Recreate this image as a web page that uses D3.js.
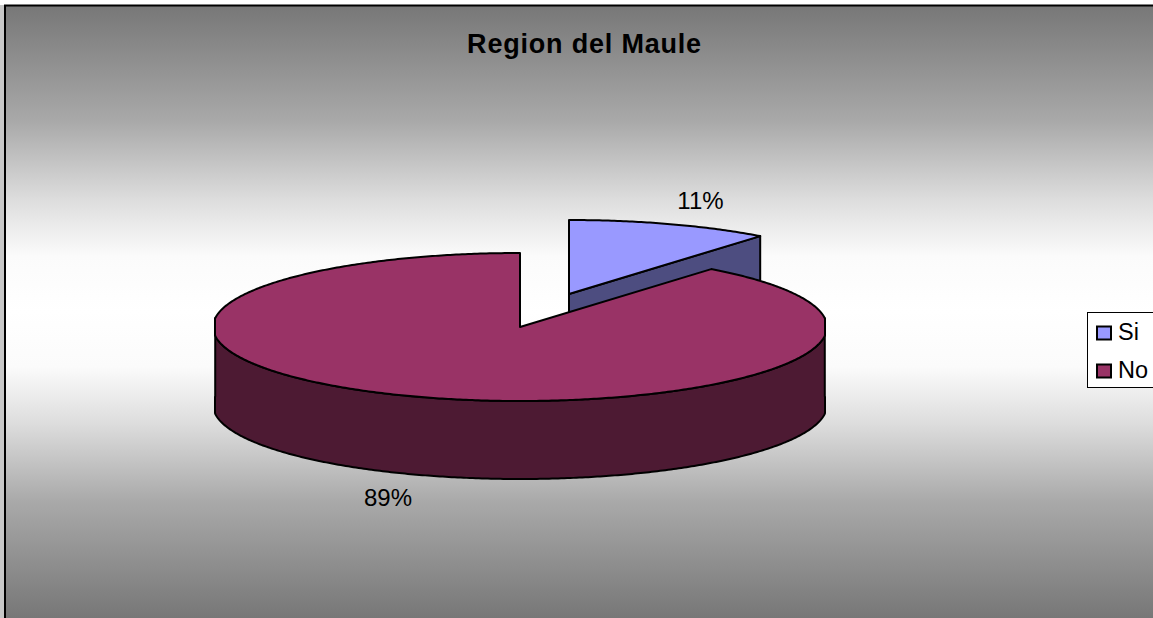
<!DOCTYPE html>
<html><head><meta charset="utf-8">
<script src="https://cdn.jsdelivr.net/npm/d3@7/dist/d3.min.js"></script>
<style>html,body{margin:0;padding:0;background:#fff}svg{display:block}text{font-family:"Liberation Sans",Arial,sans-serif;fill:#000}</style>
</head><body><svg id="c" width="1153" height="618"></svg>
<script>
const chartTitle = "Region del Maule";
const categories = ["Si", "No"];
const values = [10.7, 89.3];
const labels = ["11%", "89%"];
const topColors = ["#9999ff", "#993366"];
const sideColors = ["#4d4d80", "#4d1a33"];

const W = 1153, H = 618;
const svg = d3.select("#c");
const defs = svg.append("defs");
const grad = defs.append("linearGradient").attr("id","bg").attr("gradientUnits","userSpaceOnUse")
  .attr("x1",0).attr("y1",5).attr("x2",0).attr("y2",618);
[[0,"#777777"],[0.19,"#a9a9a9"],[0.32,"#dedede"],[0.41,"#fbfbfb"],[0.5,"#ffffff"],[0.59,"#fbfbfb"],[0.68,"#dedede"],[0.81,"#a9a9a9"],[1,"#777777"]]
  .forEach(s=>grad.append("stop").attr("offset",s[0]).attr("stop-color",s[1]));

svg.append("rect").attr("width",W).attr("height",H).attr("fill","#fff");
svg.append("rect").attr("x",0).attr("y",5).attr("width",4).attr("height",H).attr("fill","#c8c8c8");
svg.append("rect").attr("x",5).attr("y",5.5).attr("width",W+10).attr("height",H+10)
  .attr("fill","url(#bg)").attr("stroke","#000").attr("stroke-width",2);

svg.append("text").attr("x",584.5).attr("y",59).attr("text-anchor","middle")
  .attr("font-size",18.5).attr("font-weight","bold").attr("font-size",27).attr("letter-spacing",0.8)
  .attr("y",53).text(chartTitle);

// pie geometry
const rx = 307, maxX = 305, ry = 74, depth = 78;
const centers = [{x:569,y:294},{x:520,y:327}];
const pie = d3.pie().sort(null).value(d=>d)(values);
const px = (c,a)=>c.x + Math.max(-maxX,Math.min(maxX,rx*Math.sin(a)));
const py = (c,a)=>c.y - ry*Math.cos(a);
const rim = (c,a0,a1,dy=0)=>{
  const n = Math.max(2,Math.ceil((a1-a0)/0.01));
  return d3.range(n+1).map(i=>{const a=a0+(a1-a0)*i/n;return [px(c,a),py(c,a)+dy];});
};
const line = d3.line();
const draw = (pts,fill)=>svg.append("path").attr("d",line(pts)+"Z").attr("fill",fill)
  .attr("stroke","#000").attr("stroke-width",2).attr("stroke-linejoin","round");

// Si slice: visible cut face, then top
{
  const c = centers[0], s = pie[0];
  const e = [px(c,s.endAngle),py(c,s.endAngle)];
  draw([[c.x,c.y],e,[e[0],e[1]+depth],[c.x,c.y+depth]],sideColors[0]);
  draw([[c.x,c.y],...rim(c,s.startAngle,s.endAngle)],topColors[0]);
}
// No slice: outer wall (front half), then top
{
  const c = centers[1], s = pie[1];
  const a0 = Math.PI/2 - 0.12, a1 = 3*Math.PI/2 + 0.12;
  const front = rim(c,a0,a1);
  const back = rim(c,a0,a1,depth).reverse();
  draw([...front,...back],sideColors[1]);
  draw([[c.x,c.y],...rim(c,s.startAngle,s.endAngle)],topColors[1]);
}

// data labels
const labelPos = [[700.5,209],[388,506]];
labels.forEach((t,i)=>svg.append("text").attr("x",labelPos[i][0]).attr("y",labelPos[i][1])
  .attr("text-anchor","middle").attr("font-size",24).text(t));

// legend
const lg = svg.append("g");
lg.append("rect").attr("x",1087.5).attr("y",312.5).attr("width",70).attr("height",75)
  .attr("fill","#fff").attr("stroke","#000").attr("stroke-width",1);
categories.forEach((t,i)=>{
  const y = 333 + i*38;
  lg.append("rect").attr("x",1097).attr("y",y-6.5).attr("width",14).attr("height",13)
    .attr("fill",topColors[i]).attr("stroke","#000").attr("stroke-width",2);
  lg.append("text").attr("x",1118).attr("y",y+6.5).attr("font-size",23.5).text(t);
});
</script></body></html>
